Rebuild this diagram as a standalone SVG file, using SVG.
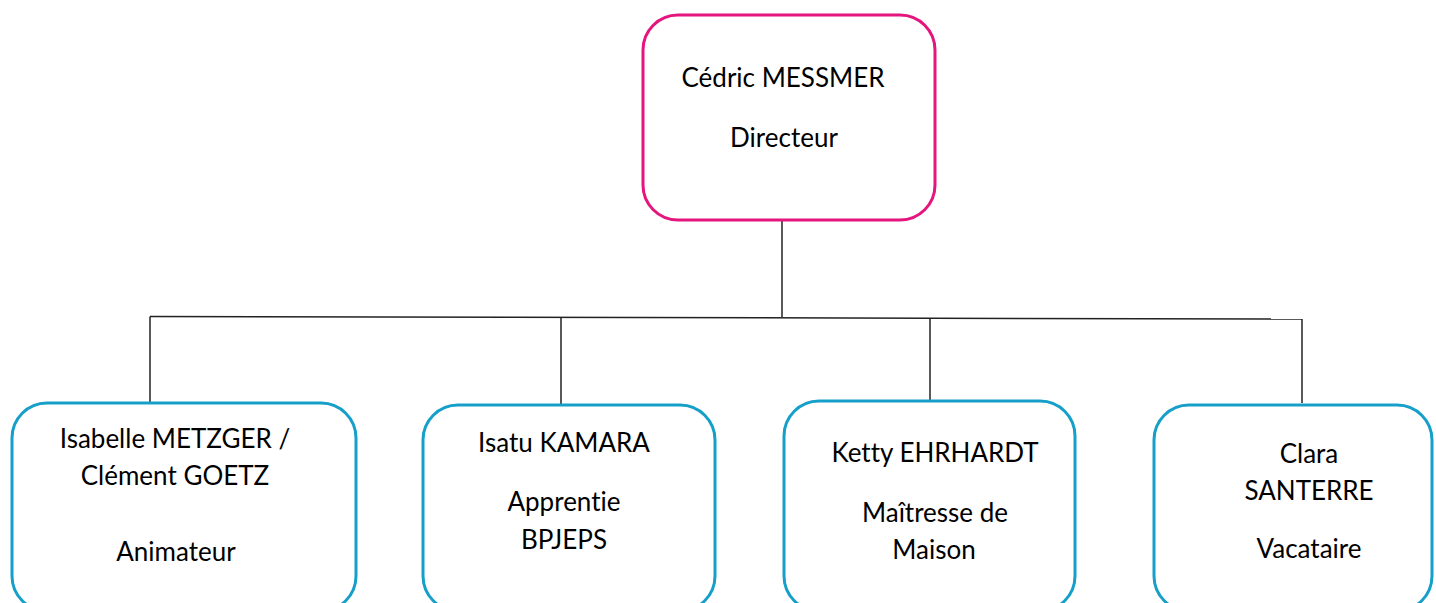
<svg xmlns="http://www.w3.org/2000/svg" width="1436" height="603" viewBox="0 0 1436 603">
<style>
.box{fill:#fff;stroke-width:3}
.top{stroke:#E5157E}
.sub{stroke:#169FC9}
.t{font-family:Lato,"Liberation Sans",Arial,sans-serif;font-size:26px;fill:#000;text-anchor:middle;font-variant-ligatures:none;font-feature-settings:"liga" 0,"dlig" 0}
.c{stroke:#222;stroke-width:1.5;fill:none}
</style>
<rect width="1436" height="603" fill="#fff"/>
<g id="connectors">
<line class="c" x1="782" y1="219" x2="782" y2="317"/>
<line class="c" x1="150" y1="316.5" x2="1302" y2="319"/>
<line class="c" x1="150" y1="316.5" x2="150" y2="402"/>
<line class="c" x1="561" y1="317.5" x2="561" y2="405"/>
<line class="c" x1="930" y1="318.5" x2="930" y2="403"/>
<line class="c" x1="1302" y1="319" x2="1302" y2="403"/>
</g>
<g id="node-directeur">
<rect class="box top" x="643" y="15" width="292" height="205" rx="35" ry="35"/>
<text class="t" x="783" y="87">Cédric MESSMER</text>
<text class="t" x="784" y="147">Directeur</text>
</g>
<g id="node-animateur">
<rect class="box sub" x="12" y="403" width="344" height="208" rx="35" ry="35"/>
<text class="t" x="175" y="448">Isabelle METZGER /</text>
<text class="t" x="175" y="485">Clément GOETZ</text>
<text class="t" x="176" y="561">Animateur</text>
</g>
<g id="node-apprentie">
<rect class="box sub" x="423" y="405" width="292" height="206" rx="35" ry="35"/>
<text class="t" x="564" y="452">Isatu KAMARA</text>
<text class="t" x="564" y="511">Apprentie</text>
<text class="t" x="564" y="549">BPJEPS</text>
</g>
<g id="node-maitresse">
<rect class="box sub" x="784" y="401" width="291" height="210" rx="35" ry="35"/>
<text class="t" x="935" y="462">Ketty EHRHARDT</text>
<text class="t" x="935" y="522">Maîtresse de</text>
<text class="t" x="934" y="559">Maison</text>
</g>
<g id="node-vacataire">
<rect class="box sub" x="1154" y="405" width="278" height="206" rx="35" ry="35"/>
<text class="t" x="1309" y="463">Clara</text>
<text class="t" x="1309" y="500">SANTERRE</text>
<text class="t" x="1309" y="558">Vacataire</text>
</g>
</svg>
